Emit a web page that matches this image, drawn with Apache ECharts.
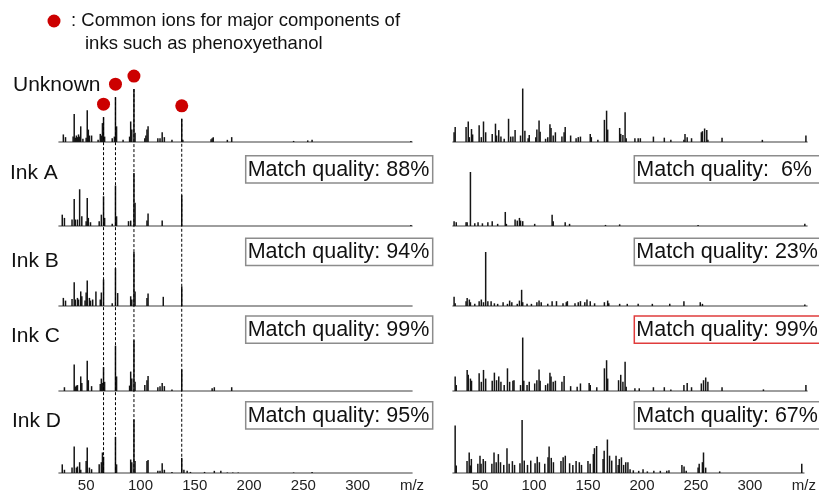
<!DOCTYPE html>
<html><head><meta charset="utf-8">
<script src="https://cdn.jsdelivr.net/npm/echarts@6/dist/echarts.min.js"></script>
<style>html,body{margin:0;padding:0;background:#fff}#c{width:819px;height:494px}</style>
</head><body><div id="c"></div>
<script>
// ---------- DATA ----------
const mzTicks = [50, 100, 150, 200, 250, 300];
const mzRange = [25, 350];
const rowNames = ['Unknown', 'Ink A', 'Ink B', 'Ink C', 'Ink D'];
const matchLeft = [null, '88%', '94%', '99%', '95%'];
const matchRight = [null, ' 6%', '23%', '99%', '67%'];
const bestMatchRow = 3; // right column, red box
const commonIons = [66, 77, 94, 138];

const specUnknownL = [[29,14],[31,9],[38,10],[39,52],[40,8],[41,12],[42,9],[43,14],[44,10],[45,29],[47,6],[50,8],[51,59],[52,23],[53,12],[55,12],[61,4],[63,15],[64,12],[65,35],[66,46],[67,10],[74,7],[76,10],[77,83],[78,29],[84,4],[90,10],[91,38],[92,23],[94,98],[95,17],[104,7],[105,12],[106,23],[107,29],[116,7],[118,7],[120,18],[122,9],[129,4],[138,43],[139,4],[165,5],[166,7],[167,9],[180,4],[184,9],[241,2],[254,3],[258,4],[349,2]];
const specUnknownR = [[26,18],[27,28],[37,28],[39,38],[40,9],[42,24],[43,14],[49,31],[51,9],[53,38],[55,18],[61,15],[64,34],[65,12],[67,22],[69,10],[72,6],[76,43],[78,10],[80,10],[82,22],[87,12],[89,99],[91,21],[94,7],[95,13],[101,9],[102,23],[104,40],[105,19],[110,6],[112,9],[114,33],[115,26],[117,12],[119,18],[125,10],[127,18],[128,28],[133,12],[138,7],[140,9],[142,10],[151,15],[152,9],[158,4],[164,41],[166,58],[167,23],[178,26],[179,15],[181,13],[183,55],[184,7],[192,7],[195,7],[197,7],[209,10],[219,8],[225,4],[237,4],[238,15],[240,9],[244,7],[253,18],[254,20],[256,25],[258,22],[259,4],[272,8],[309,4],[349,12]];
const specAL = [[28,21],[30,15],[37,12],[39,50],[40,12],[42,12],[44,68],[46,18],[50,9],[51,52],[52,15],[54,7],[62,9],[64,21],[66,55],[67,15],[74,4],[77,75],[78,18],[89,9],[91,10],[94,98],[95,43],[106,10],[107,23],[120,10],[138,57],[349,2]];
const specAR = [[26,9],[28,7],[37,7],[38,7],[41,100],[45,5],[48,7],[52,5],[57,7],[61,9],[66,4],[73,26],[74,4],[82,12],[84,10],[86,15],[87,10],[89,9],[100,4],[116,21],[117,9],[128,7],[132,4],[165,2],[178,3],[250,2],[348,4]];
const specBL = [[29,15],[31,10],[37,13],[39,44],[40,12],[42,15],[43,12],[45,27],[46,18],[49,10],[50,25],[51,47],[53,15],[54,10],[56,12],[59,27],[63,12],[64,25],[66,49],[74,5],[77,70],[79,24],[91,18],[92,12],[94,100],[95,27],[106,15],[107,23],[121,17],[138,36]];
const specBR = [[26,17],[27,5],[37,9],[38,15],[40,12],[41,7],[45,4],[49,9],[51,12],[53,7],[55,100],[57,9],[60,9],[63,5],[66,4],[71,7],[75,4],[77,10],[79,7],[84,4],[86,10],[88,30],[89,7],[93,4],[97,4],[102,7],[104,10],[106,7],[112,4],[116,9],[120,9],[126,5],[129,7],[130,9],[137,5],[140,7],[142,9],[146,7],[148,12],[151,9],[155,5],[164,7],[167,10],[168,5],[178,4],[185,4],[195,4],[208,4],[224,4],[237,9],[252,7],[254,4],[348,3]];
const specCL = [[30,7],[39,49],[40,8],[41,10],[42,11],[45,27],[46,15],[51,56],[52,20],[55,9],[63,13],[64,23],[65,15],[66,44],[67,17],[77,84],[78,27],[90,10],[91,36],[92,23],[94,94],[95,17],[104,11],[106,20],[107,28],[116,7],[118,9],[120,15],[122,9],[129,3],[138,40],[166,5],[168,7],[184,7]];
const specCR = [[27,27],[28,11],[38,39],[39,30],[41,23],[42,19],[49,33],[51,17],[53,39],[55,23],[61,19],[63,34],[65,20],[67,27],[69,17],[72,11],[75,42],[77,17],[80,19],[81,20],[87,11],[89,99],[90,19],[93,11],[95,17],[100,14],[102,20],[104,40],[105,19],[110,11],[112,14],[114,34],[115,27],[117,17],[119,19],[125,17],[127,28],[133,9],[139,8],[142,14],[150,15],[151,11],[157,7],[164,42],[166,57],[167,23],[177,20],[179,30],[181,17],[183,54],[184,8],[192,5],[196,5],[209,7],[219,7],[225,3],[237,11],[240,15],[244,7],[253,14],[255,20],[257,25],[259,17],[272,7],[310,3],[349,11]];
const specDL = [[28,16],[30,6],[37,10],[39,49],[41,10],[42,12],[44,20],[45,6],[50,22],[51,47],[53,10],[55,7],[62,16],[64,20],[65,38],[66,30],[77,67],[78,16],[91,25],[92,20],[94,99],[95,22],[106,22],[107,24],[116,4],[118,4],[120,18],[122,6],[129,2],[138,28],[140,6],[143,4],[146,2],[159,2],[168,4],[174,4],[180,1],[185,1],[190,1],[241,1],[258,2]];
const specDR = [[27,88],[28,14],[38,22],[40,38],[41,14],[42,26],[48,17],[50,32],[51,17],[53,26],[55,22],[61,17],[63,38],[65,20],[67,35],[69,20],[72,15],[75,46],[77,17],[80,22],[82,15],[87,18],[89,98],[91,23],[94,15],[97,23],[101,18],[103,30],[105,20],[110,17],[113,29],[114,49],[116,28],[118,20],[125,22],[127,29],[129,32],[133,18],[136,15],[139,22],[142,20],[144,15],[150,22],[152,17],[155,35],[156,46],[158,50],[164,26],[165,41],[168,62],[170,32],[172,23],[176,32],[178,15],[179,26],[181,29],[183,15],[185,20],[187,20],[189,7],[192,5],[197,4],[201,7],[205,3],[211,4],[217,4],[223,4],[225,5],[237,15],[239,12],[241,4],[252,10],[253,17],[256,20],[257,38],[259,10],[272,3],[348,17]];

const spectraLeft = [specUnknownL, specAL, specBL, specCL, specDL];
const spectraRight = [specUnknownR, specAR, specBR, specCR, specDR];

// ---------- LAYOUT ----------
const baselines = [142, 226, 306, 391, 473];
const panelH = 54;
const colX = [59, 453];
const colW = [353, 354];
const boxTops = [null, 155.7, 238.3, 316, 401.7];
const boxH = 27.3;
const boxX = [245.7, 634.3];
const boxW = [187, 186];
const labelY = [85, 173, 261, 336, 421];
const labelX = [13, 10, 11, 11, 12];
const FONT = '"Liberation Sans", Arial, Helvetica, sans-serif';
const RED = '#cc0000';

const chart = echarts.init(document.getElementById('c'), null, {renderer: 'canvas'});

const grids = [], xAxes = [], yAxes = [], series = [];
for (let r = 0; r < 5; r++) {
  for (let c = 0; c < 2; c++) {
    const i = r * 2 + c;
    grids.push({left: colX[c], width: colW[c], top: baselines[r] - panelH, height: panelH});
    const bottom = r === 4;
    xAxes.push({
      type: 'value', gridIndex: i, min: mzRange[0], max: mzRange[1],
      axisLine: {show: true, onZero: false, lineStyle: {color: '#7f7f7f', width: 1.6}},
      axisTick: {show: false}, splitLine: {show: false},
      axisLabel: bottom ? {
        show: true, customValues: mzTicks.concat([mzRange[1]]),
        formatter: v => v === mzRange[1] ? 'm/z' : String(v),
        color: '#222', fontSize: 15, fontFamily: FONT, margin: 5,
        showMinLabel: true, showMaxLabel: true
      } : {show: false}
    });
    yAxes.push({type: 'value', gridIndex: i, min: 0, max: 100, show: false});
    series.push({
      type: 'bar', xAxisIndex: i, yAxisIndex: i,
      data: (c === 0 ? spectraLeft : spectraRight)[r],
      barWidth: 1.5, itemStyle: {color: '#151515'}, silent: true
    });
  }
}
// red dots for common ions (on Unknown left)
const ionPoints = commonIons.map(m => {
  const p = specUnknownL.find(d => d[0] === m);
  return [m, p ? p[1] : 0];
});
series.push({
  type: 'scatter', xAxisIndex: 0, yAxisIndex: 0, data: ionPoints,
  symbol: 'circle', symbolSize: 13, symbolOffset: [0, -13],
  itemStyle: {color: RED, opacity: 1}, clip: false, z: 10, silent: true
});

chart.setOption({
  animation: false, backgroundColor: '#fff',
  grid: grids, xAxis: xAxes, yAxis: yAxes, series: series
});

// ---------- GRAPHICS ----------
const g = [];
// legend
g.push({type: 'circle', shape: {cx: 54, cy: 21, r: 6.5}, style: {fill: RED}});
g.push({type: 'text', x: 71, y: 21, style: {text: ': Common ions for major components of', font: '18.5px ' + FONT, fill: '#111', verticalAlign: 'middle'}});
g.push({type: 'text', x: 85, y: 43.5, style: {text: 'inks such as phenoxyethanol', font: '18.5px ' + FONT, fill: '#111', verticalAlign: 'middle'}});
// row labels
rowNames.forEach((n, r) => {
  g.push({type: 'text', x: labelX[r], y: labelY[r], style: {text: n, font: '21px ' + FONT, fill: '#111', verticalAlign: 'middle'}});
});
// match boxes
for (let r = 1; r < 5; r++) {
  [matchLeft, matchRight].forEach((arr, c) => {
    const red = (c === 1 && r === bestMatchRow);
    g.push({type: 'rect', shape: {x: boxX[c], y: boxTops[r], width: boxW[c], height: boxH},
      style: {fill: '#fff', stroke: red ? '#e03c3c' : '#8c8c8c', lineWidth: 1.5}, z: 5});
    g.push({type: 'text', x: boxX[c] + 2, y: boxTops[r] + boxH / 2 + 0.5,
      style: {text: 'Match quality: ' + arr[r], font: '21.5px ' + FONT, fill: '#111', verticalAlign: 'middle'}, z: 6});
  });
}
// dashed guide lines through left column
commonIons.forEach((m, k) => {
  const top = chart.convertToPixel({xAxisIndex: 0, yAxisIndex: 0}, ionPoints[k]);
  const bot = chart.convertToPixel({xAxisIndex: 8, yAxisIndex: 8}, [m, 0]);
  g.push({type: 'line', shape: {x1: top[0], y1: top[1], x2: bot[0], y2: bot[1]},
    style: {stroke: '#000', lineWidth: 1, lineDash: [3, 2]}, z: 4});
});
chart.setOption({graphic: g});
</script></body></html>
